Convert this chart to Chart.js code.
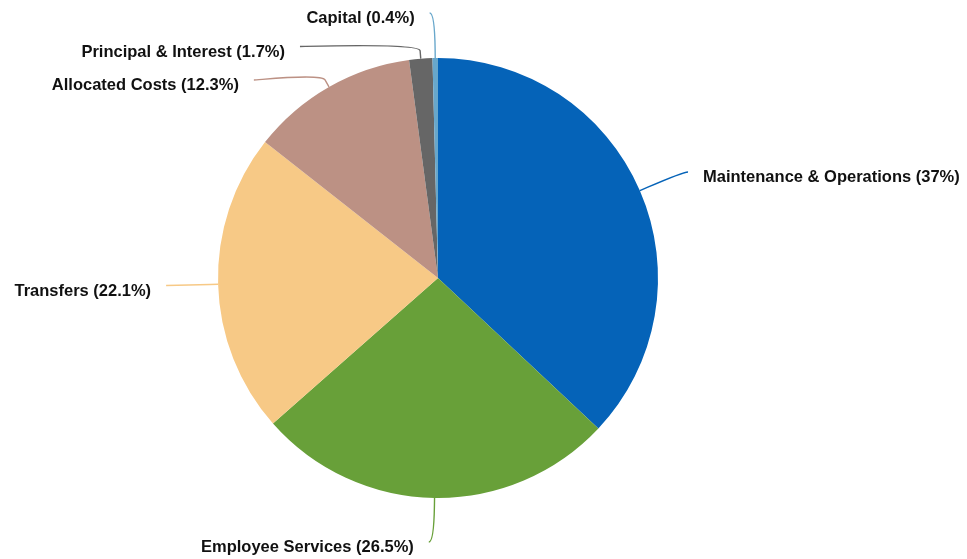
<!DOCTYPE html>
<html>
<head>
<meta charset="utf-8">
<script src="https://cdn.jsdelivr.net/npm/chart.js@4.4.1/dist/chart.umd.min.js"></script>
<style>
  html, body { margin: 0; padding: 0; background: #fff; }
  canvas { display: block; }
</style>
</head>
<body>
<canvas id="budgetPie" width="967" height="559"></canvas>
<script>
// data
const categories = ['Maintenance & Operations', 'Employee Services', 'Transfers', 'Allocated Costs', 'Principal & Interest', 'Capital'];
const shares = [37, 26.5, 22.1, 12.3, 1.7, 0.4];
const sliceColors = ['#0563b8', '#68a039', '#f7c986', '#bc9184', '#666666', '#68a7cb'];

// labels with curved connectors (like highcharts pie labels)
const pieLabels = {
  id: 'pieLabels',
  afterDraw(chart) {
    const ctx = chart.ctx;
    const arcs = chart.getDatasetMeta(0).data;
    const dist = 47, pad = 5, breakOff = 8, slot = 33.5, minY = 13, maxY = 542;
    const items = arcs.map((arc, i) => {
      const a = (arc.startAngle + arc.endAngle) / 2;
      const R = arc.outerRadius + dist;
      return {
        i, a, cx: arc.x, cy: arc.y, r: arc.outerRadius, R,
        left: Math.cos(a) < 0,
        target: arc.y + R * Math.sin(a)
      };
    });

    function distribute(list) {
      list.sort((p, q) => p.target - q.target);
      const place = g => {
        const n = g.items.length;
        let top = g.target - (n - 1) * slot / 2;
        top = Math.max(minY, Math.min(maxY - (n - 1) * slot, top));
        g.top = top;
      };
      let groups = list.map(it => ({ items: [it], target: it.target }));
      groups.forEach(place);
      let changed = true;
      while (changed) {
        changed = false;
        for (let k = 0; k < groups.length - 1; k++) {
          const g1 = groups[k], g2 = groups[k + 1];
          const last = g1.top + (g1.items.length - 1) * slot;
          if (g2.top - last < slot - 0.01) {
            const merged = g1.items.concat(g2.items);
            const g = { items: merged, target: merged.reduce((s, it) => s + it.target, 0) / merged.length };
            place(g);
            groups.splice(k, 2, g);
            changed = true;
            break;
          }
        }
      }
      groups.forEach(g => g.items.forEach((it, k) => { it.y = g.top + k * slot; }));
      list.forEach((it, k) => { it.edge = (k === 0 || k === list.length - 1); });
    }
    distribute(items.filter(it => it.left));
    distribute(items.filter(it => !it.left));

    ctx.save();
    ctx.font = 'bold 16.5px "Liberation Sans", Arial, sans-serif';
    ctx.textBaseline = 'middle';
    items.forEach(it => {
      const yForX = it.edge ? it.target : it.y;
      const s = Math.max(-1, Math.min(1, (yForX - it.cy) / it.R));
      const dir = it.left ? -1 : 1;
      const lx = it.cx + dir * (Math.cos(Math.asin(s)) * it.R + pad);
      const ly = it.y;
      const tx = it.cx + it.r * Math.cos(it.a), ty = it.cy + it.r * Math.sin(it.a);
      const bx = it.cx + (it.r + breakOff) * Math.cos(it.a), by = it.cy + (it.r + breakOff) * Math.sin(it.a);

      ctx.beginPath();
      ctx.moveTo(lx, ly);
      ctx.bezierCurveTo(lx - dir * 5, ly, 2 * bx - tx, 2 * by - ty, bx, by);
      ctx.lineTo(tx, ty);
      ctx.strokeStyle = sliceColors[it.i];
      ctx.lineWidth = 1.4;
      ctx.stroke();

      ctx.fillStyle = '#111';
      ctx.textAlign = it.left ? 'right' : 'left';
      ctx.fillText(categories[it.i] + ' (' + shares[it.i] + '%)', lx + dir * 15, ly + 5.5);
    });
    ctx.restore();
  }
};

const ctx = document.getElementById('budgetPie');

const budgetPie = new Chart(ctx, {
  type: 'pie',
  data: {
    labels: categories,
    datasets: [{
      data: shares,
      backgroundColor: sliceColors,
      borderWidth: 0
    }]
  },
  options: {
    responsive: false,
    animation: false,
    layout: {
      padding: { left: 218, right: 309, top: 58, bottom: 61 }
    },
    plugins: {
      legend: { display: false },
      tooltip: { enabled: false }
    }
  },
  plugins: [pieLabels]
});
</script>
</body>
</html>
